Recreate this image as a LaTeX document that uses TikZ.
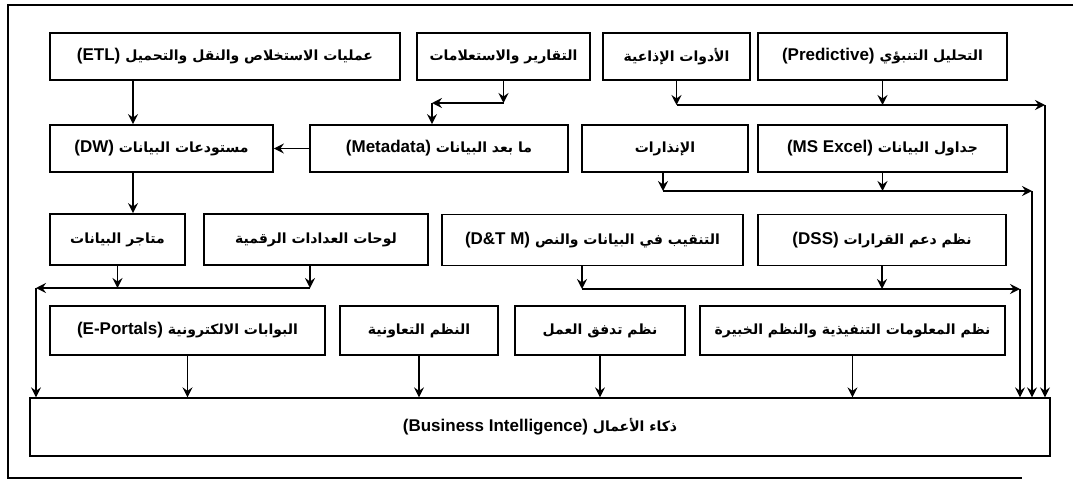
\documentclass[tikz,border=0pt]{standalone}
\usepackage{fontspec}
\usetikzlibrary{arrows.meta}
\TeXXeTstate=1
\newfontfamily\arabicfont[Script=Arabic]{DejaVu Sans}
\newfontfamily\latinfont{Liberation Sans}
% right-to-left label with an optional embedded Latin run
\newcommand{\artext}[1]{{\arabicfont\bfseries\beginR #1\endR}}
\newcommand{\lat}[1]{\beginL\hbox{\latinfont\bfseries\fontsize{17}{19}\selectfont #1}\endL}

\tikzset{
  box/.style={draw, line width=1.8pt, inner sep=0pt, align=center,
    font=\fontsize{14}{16}\selectfont},
  conn/.style={line width=1.7pt},
  thinconn/.style={line width=1.3pt},
  tip/.style={-{Stealth[length=10pt,width=10pt,inset=3.5pt]}},
  frame/.style={line width=1.3pt}
}

\begin{document}
\begin{tikzpicture}[x=1pt,y=-1pt]
\useasboundingbox (0,0) rectangle (1079,482);

% outer frame
\draw[frame] (1073,5) -- (8,5) -- (8,478) -- (1022,478);

% row 1
\node[box, minimum width=350pt, minimum height=47pt] (etl)  at (225,56.5)   {\artext{عمليات الاستخلاص والنقل والتحميل \lat{(ETL)}}};
\node[box, minimum width=173pt, minimum height=47pt] (rep)  at (503.5,56.5) {\artext{التقارير والاستعلامات}};
\node[box, minimum width=147pt, minimum height=47pt] (adw)  at (676.5,56.5) {\artext{الأدوات الإذاعية}};
\node[box, minimum width=249pt, minimum height=47pt] (pred) at (882.5,56.5) {\artext{التحليل التنبؤي \lat{(Predictive)}}};

% row 2
\node[box, minimum width=223pt, minimum height=47pt] (dw)    at (161.5,148.5) {\artext{مستودعات البيانات \lat{(DW)}}};
\node[box, minimum width=258pt, minimum height=47pt] (meta)  at (439,148.5)   {\artext{ما بعد البيانات \lat{(Metadata)}}};
\node[box, minimum width=166pt, minimum height=47pt] (alert) at (665,148.5)   {\artext{الإنذارات}};
\node[box, minimum width=249pt, minimum height=47pt] (excel) at (882.5,148.5) {\artext{جداول البيانات \lat{(MS Excel)}}};

% row 3
\node[box, minimum width=135pt, minimum height=51pt] (marts) at (117.5,239.5) {\artext{متاجر البيانات}};
\node[box, minimum width=224pt, minimum height=51pt] (dash)  at (316,239.5)   {\artext{لوحات العدادات الرقمية}};
\node[box, minimum width=301pt, minimum height=51pt] (mine)  at (592.5,240)   {\artext{التنقيب في البيانات والنص \lat{(D\&T M)}}};
\node[box, minimum width=248pt, minimum height=51pt] (dss)   at (882,240)     {\artext{نظم دعم القرارات \lat{(DSS)}}};

% row 4
\node[box, minimum width=275pt, minimum height=49pt] (portal) at (187.5,330.5) {\artext{البوابات الالكترونية \lat{(E-Portals)}}};
\node[box, minimum width=158pt, minimum height=49pt] (collab) at (419,330.5)   {\artext{النظم التعاونية}};
\node[box, minimum width=170pt, minimum height=49pt] (wflow)  at (600,330.5)   {\artext{نظم تدفق العمل}};
\node[box, minimum width=305pt, minimum height=49pt] (exec)   at (852.5,330.5) {\artext{نظم المعلومات التنفيذية والنظم الخبيرة}};

% target
\node[box, line width=1.3pt, minimum width=1020pt, minimum height=58pt] (bi) at (540,427) {\artext{ذكاء الأعمال \lat{(Business Intelligence)}}};

% routing points
\coordinate (x133) at (133,0);
\coordinate (rj) at (503.5,103);
\coordinate (mj) at (432,103);
\coordinate (b1) at (1045,105);
\coordinate (b2) at (1032,191);
\coordinate (b3) at (1020,289);
\coordinate (b4) at (36,288);
\coordinate (x663) at (663,0);
\coordinate (x310) at (310,0);
\coordinate (x582) at (582,0);

% ETL -> DW -> data marts
\draw[conn,tip] (etl.south -| x133) -- (dw.north -| x133);
\draw[conn,tip] (dw.south -| x133) -- (marts.north -| x133);
% metadata -> DW
\draw[conn,tip] (meta.west) -- (dw.east);
% reports -> metadata
\draw[conn,tip] (rep.south) -- (rj);
\draw[conn,tip] (rj) -- (mj);
\draw[conn,tip] (mj) -- (meta.north -| mj);

% upper right bus
\draw[conn,tip] (adw.south) -- (adw.south |- b1);
\draw[conn,tip] (pred.south) -- (pred.south |- b1);
\draw[conn,tip] (adw.south |- b1) -- (b1);
\draw[thinconn,tip] (b1) -- (bi.north -| b1);

% second bus
\draw[conn,tip] (alert.south -| x663) -- (b2 -| x663);
\draw[conn,tip] (excel.south) -- (excel.south |- b2);
\draw[conn,tip] (b2 -| x663) -- (b2);
\draw[thinconn,tip] (b2) -- (bi.north -| b2);

% third bus, right
\draw[conn,tip] (mine.south -| x582) -- (b3 -| x582);
\draw[conn,tip] (dss.south) -- (dss.south |- b3);
\draw[conn,tip] (b3 -| x582) -- (b3);
\draw[thinconn,tip] (b3) -- (bi.north -| b3);

% third bus, left
\draw[conn,tip] (marts.south) -- (marts.south |- b4);
\draw[conn,tip] (dash.south -| x310) -- (b4 -| x310);
\draw[conn,tip] (b4 -| x310) -- (b4);
\draw[thinconn,tip] (b4) -- (bi.north -| b4);

% row 4 into BI
\draw[conn,tip] (portal.south) -- (portal.south |- bi.north);
\draw[thinconn,tip] (collab.south) -- (collab.south |- bi.north);
\draw[thinconn,tip] (wflow.south) -- (wflow.south |- bi.north);
\draw[thinconn,tip] (exec.south) -- (exec.south |- bi.north);
\end{tikzpicture}
\end{document}
